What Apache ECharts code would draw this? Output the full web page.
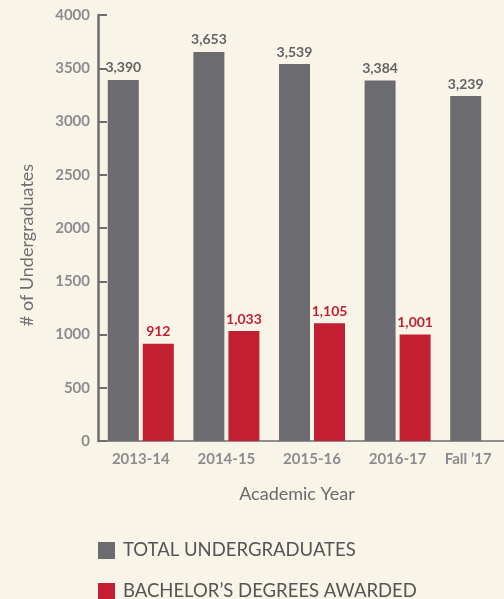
<!DOCTYPE html>
<html>
<head>
<meta charset="utf-8">
<style>
  html, body { margin: 0; padding: 0; background: #f8f4e7; }
  #main { width: 504px; height: 599px; }
</style>
<script src="https://cdn.jsdelivr.net/npm/echarts@6/dist/echarts.min.js"></script>
</head>
<body>
<div id="main"></div>
<script>
// 数据
var years = ['2013-14', '2014-15', '2015-16', '2016-17', "Fall \u201917"];
var totalUndergrad = [3390, 3653, 3539, 3384, 3239];
var bachelorDegrees = [912, 1033, 1105, 1001, null];
var yTicks = { min: 0, max: 4000, interval: 500 };
var seriesNames = ['TOTAL UNDERGRADUATES', 'BACHELOR\u2019S DEGREES AWARDED'];

var chart = echarts.init(document.getElementById('main'));

var grayC = '#6b6b70';
var redC = '#c21f32';
var fontF = 'Lato, "Open Sans", sans-serif';

// 图例，一行一个
function legendItem(name, top) {
  return {
    orient: 'vertical',
    left: 93,
    top: top,
    icon: 'rect',
    itemWidth: 17,
    itemHeight: 17,
    itemGap: 12,
    selectedMode: false,
    textStyle: { fontSize: 18.5, color: '#555558', fontFamily: fontF, padding: [0, 0, 0, 3] },
    data: [name]
  };
}

var option = {
  backgroundColor: '#f8f4e7',
  textStyle: { fontFamily: fontF },
  grid: {
    left: 98,
    top: 15,
    bottom: 158,
    right: -22,
    outerBoundsMode: 'none'
  },
  legend: [legendItem(seriesNames[0], 536), legendItem(seriesNames[1], 577)],
  xAxis: {
    type: 'category',
    data: years.map(function (y, i) {
      // 最后一个标签往左挪一点，和灰柱对齐
      if (i === years.length - 1) {
        return { value: y, textStyle: { padding: [0, 30, 0, 0] } };
      }
      return y;
    }),
    name: 'Academic Year',
    nameLocation: 'middle',
    nameGap: 44,
    nameTextStyle: { fontSize: 18, color: '#6a6a6e', padding: [0, 30, 0, 0] },
    axisLine: { lineStyle: { color: '#8e8e8e', width: 2 } },
    axisTick: { inside: true, length: 10, lineStyle: { color: '#8e8e8e', width: 2 } },
    axisLabel: { fontSize: 15, fontWeight: 'bold', color: '#8c8c90', margin: 11 }
  },
  yAxis: {
    type: 'value',
    min: yTicks.min,
    max: yTicks.max,
    interval: yTicks.interval,
    name: '# of Undergraduates',
    nameLocation: 'middle',
    nameGap: 62,
    nameRotate: 90,
    nameTextStyle: { fontSize: 18, color: '#707074', padding: [0, 34, 0, 0] },
    axisLine: { show: true, lineStyle: { color: '#6e6e72', width: 2.5 } },
    axisTick: { show: true, inside: true, length: 9, lineStyle: { color: '#6e6e72', width: 2 } },
    axisLabel: {
      fontSize: 15,
      fontWeight: 'bold',
      color: '#8c8c90',
      margin: 8,
      formatter: function (v) { return String(v); }
    },
    splitLine: { show: false }
  },
  series: [
    {
      name: seriesNames[0],
      type: 'bar',
      data: totalUndergrad,
      barWidth: 31,
      barGap: '13%',
      itemStyle: { color: grayC },
      label: {
        show: true,
        position: 'top',
        distance: 5,
        fontSize: 14,
        fontWeight: 'bold',
        color: '#626268',
        formatter: function (p) { return p.value.toLocaleString('en-US'); }
      }
    },
    {
      name: seriesNames[1],
      type: 'bar',
      data: bachelorDegrees,
      barWidth: 31,
      itemStyle: { color: redC },
      label: {
        show: true,
        position: 'top',
        distance: 5,
        fontSize: 14,
        fontWeight: 'bold',
        color: redC,
        formatter: function (p) { return p.value == null ? '' : p.value.toLocaleString('en-US'); }
      }
    }
  ]
};

chart.setOption(option);
</script>
</body>
</html>
